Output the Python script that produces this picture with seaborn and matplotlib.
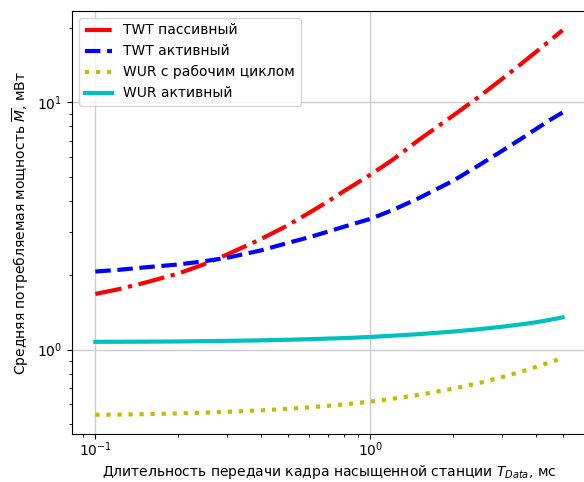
import numpy as np
import pandas as pd
import matplotlib
matplotlib.use("Agg")
import matplotlib.pyplot as plt
import seaborn as sns

# Frame duration of the saturated station, ms
t_data = [0.1, 0.12, 0.15, 0.2, 0.25, 0.3, 0.4, 0.5, 0.6, 0.7, 0.8,
          1.0, 1.2, 1.5, 2.0, 2.5, 3.0, 3.5, 4.0, 4.5, 5.0]

# Average power consumption, mW
twt_passive = [1.68, 1.75, 1.86, 2.03, 2.22, 2.42, 2.80, 3.18, 3.58, 3.97, 4.37,
               5.10, 5.84, 7.05, 8.85, 10.6, 12.4, 14.2, 16.0, 17.8, 19.6]
twt_active = [2.07, 2.10, 2.15, 2.21, 2.28, 2.35, 2.52, 2.70, 2.85, 3.00, 3.14,
              3.38, 3.66, 4.10, 4.82, 5.60, 6.35, 7.08, 7.80, 8.50, 9.10]
wur_duty = [0.545, 0.546, 0.548, 0.552, 0.556, 0.560, 0.568, 0.576, 0.584, 0.592, 0.600,
            0.616, 0.632, 0.656, 0.695, 0.734, 0.773, 0.812, 0.851, 0.889, 0.925]
wur_active = [1.075, 1.076, 1.077, 1.079, 1.082, 1.085, 1.090, 1.096, 1.102, 1.108, 1.113,
              1.125, 1.138, 1.155, 1.183, 1.210, 1.237, 1.263, 1.290, 1.320, 1.350]

series = [
    ("TWT пассивный", twt_passive, "r", "-."),
    ("TWT активный", twt_active, "b", "--"),
    ("WUR с рабочим циклом", wur_duty, "y", ":"),
    ("WUR активный", wur_active, "c", "-"),
]

plt.rcParams["font.family"] = ["DejaVu Sans"]
plt.rcParams["font.size"] = 10

fig = plt.figure(figsize=(5.84, 4.82), dpi=100)
ax = fig.add_axes([0.1233, 0.0996, 0.880, 0.8776])

for name, vals, color, ls in series:
    df = pd.DataFrame({"t": t_data, "p": vals})
    sns.lineplot(data=df, x="t", y="p", ax=ax, color=color, linestyle=ls,
                 linewidth=3, label=name)

ax.set_xscale("log")
ax.set_yscale("log")
ax.grid(True, which="major", color="#cccccc", linewidth=1.0)
ax.set_axisbelow(True)
ax.spines["right"].set_visible(False)
ax.tick_params(axis="x", which="both", pad=1)
ax.set_xlabel(r"Длительность передачи кадра насыщенной станции $T_{Data}$, мс",
              labelpad=3)
ax.set_ylabel(r"Средняя потребляемая мощность $\overline{M}$, мВт")
ax.legend(loc="upper left")

fig.savefig("out.png", dpi=100)
